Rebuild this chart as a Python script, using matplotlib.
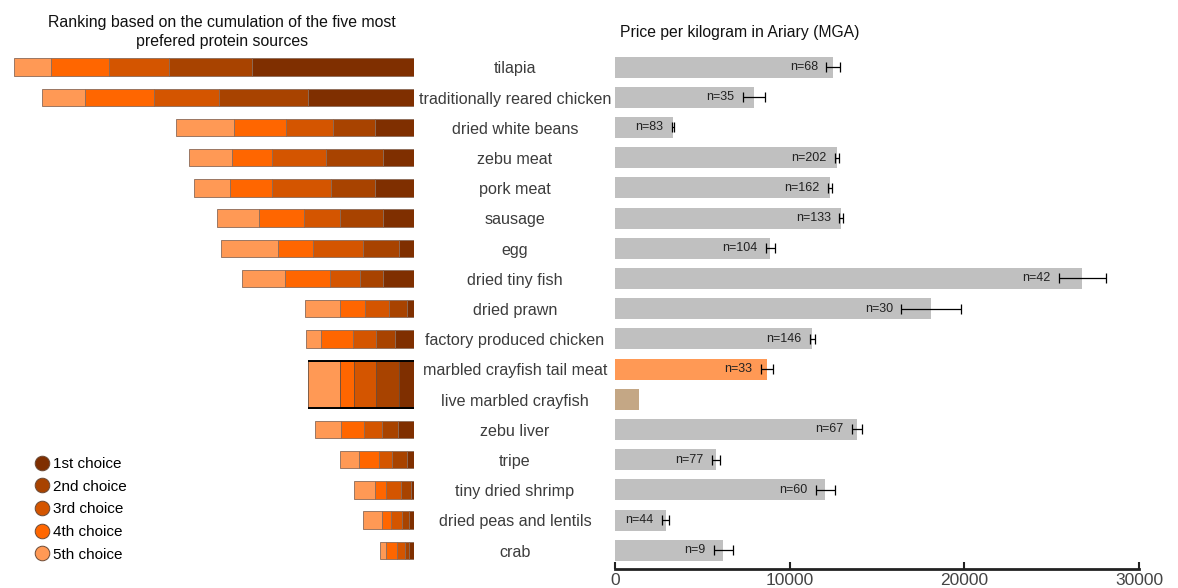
import numpy as np
import matplotlib
matplotlib.use("Agg")
import matplotlib.pyplot as plt
from matplotlib.lines import Line2D
from matplotlib.transforms import blended_transform_factory

plt.rcParams["font.family"] = ["Liberation Sans", "DejaVu Sans"]

categories = ["tilapia", "traditionally reared chicken", "dried white beans", "zebu meat",
              "pork meat", "sausage", "egg", "dried tiny fish", "dried prawn",
              "factory produced chicken", "marbled crayfish tail meat", "live marbled crayfish",
              "zebu liver", "tripe", "tiny dried shrimp", "dried peas and lentils", "crab"]

# ranking widths (arbitrary units), row "live marbled crayfish" shares the crayfish bar
choice1 = [162, 106, 39, 31, 39, 31, 15, 31, 7, 19, 15, np.nan, 16, 7, 3, 5, 5]
choice2 = [83, 89, 42, 57, 44, 43, 36, 23, 18, 19, 23, np.nan, 16, 15, 10, 7, 4]
choice3 = [60, 65, 47, 54, 59, 36, 50, 30, 24, 23, 22, np.nan, 18, 13, 15, 11, 8]
choice4 = [58, 69, 52, 40, 42, 45, 35, 45, 25, 32, 14, np.nan, 23, 20, 11, 9, 11]
choice5 = [37, 43, 58, 43, 36, 42, 57, 43, 35, 15, 32, np.nan, 26, 19, 21, 19, 6]
choice_labels = ["1st choice", "2nd choice", "3rd choice", "4th choice", "5th choice"]
choice_colors = ["#7f2f00", "#a84300", "#d45500", "#ff6600", "#ff9955"]

# price per kg (MGA)
price = [12500, 7950, 3300, 12700, 12300, 12950, 8900, 26750, 18100,
         11300, 8700, 1400, 13850, 5780, 12050, 2900, 6200]
price_err = [400, 650, 60, 100, 100, 120, 250, 1350, 1700,
             130, 350, np.nan, 270, 220, 550, 200, 540]
n_obs = ["68", "35", "83", "202", "162", "133", "104", "42", "30",
         "146", "33", "", "67", "77", "60", "44", "9"]

W, H = 1178, 588
fig = plt.figure(figsize=(W / 100, H / 100), dpi=100)

def px_axes(x0, y0, x1, y1):
    return fig.add_axes([x0 / W, 1 - y1 / H, (x1 - x0) / W, (y1 - y0) / H])

y = np.arange(len(categories))
ylim = (16.62, -0.5)

# ---- left: ranking ----
axl = px_axes(0, 52, 414.3, 569)
choices = np.array([choice1, choice2, choice3, choice4, choice5])
left = np.zeros(len(categories))
for k in range(5):
    for i in range(len(categories)):
        w = choices[k, i]
        if np.isnan(w):
            continue
        if i == 10:
            axl.barh(10.5, w, left=left[i], height=1.55, color=choice_colors[k],
                     edgecolor="#6b4a36", linewidth=0.6)
        else:
            axl.barh(i, w, left=left[i], height=0.58, color=choice_colors[k],
                     edgecolor="#8a6a58", linewidth=0.6)
        left[i] += w
# black top/bottom lines on the crayfish bar
axl.hlines([10.5 - 0.775, 10.5 + 0.775], 0, left[10], color="black", linewidth=1.4)
axl.set_xlim(414.3, 0)
axl.set_ylim(*ylim)
axl.axis("off")

handles = [Line2D([], [], marker="o", linestyle="", markersize=10.5,
                  markerfacecolor=c, markeredgecolor="#6b4a36", markeredgewidth=0.7)
           for c in choice_colors]
fig.legend(handles, choice_labels, loc="upper left", bbox_to_anchor=(34 / W, 1 - 457 / H),
           frameon=False, fontsize=11, handlelength=1.0, handletextpad=0.25,
           labelspacing=0.57, borderpad=0, borderaxespad=0)

fig.text(222 / W, 1 - 32 / H, "Ranking based on the cumulation of the five most\nprefered protein sources",
         ha="center", va="center", fontsize=11.4, color="#111111", linespacing=1.3)

# ---- right: price ----
axr = px_axes(615, 52, 1139, 569)
colors = ["#c0c0c0"] * len(categories)
colors[10] = "#ff9955"
colors[11] = "#c4a785"
axr.barh(y, price, height=0.7, color=colors)
axr.errorbar(price, y, xerr=price_err, fmt="none", ecolor="black", elinewidth=0.9,
             capsize=3.4, capthick=0.9)
for i in range(len(categories)):
    if n_obs[i]:
        axr.annotate("n=" + n_obs[i], (price[i] - price_err[i], i), xytext=(-6, 0),
                     textcoords="offset points", ha="right", va="center",
                     fontsize=9, color="#222222")
trans = blended_transform_factory(axr.transAxes, axr.transData)
for i, c in enumerate(categories):
    axr.text(-100 / 524, i + 0.06, c, transform=trans, ha="center", va="center",
             fontsize=11.6, color="#3c3c3c")

axr.set_xlim(0, 30000)
axr.set_ylim(*ylim)
axr.set_xticks([0, 10000, 20000, 30000])
axr.set_yticks([])
for s in ["top", "right", "left"]:
    axr.spines[s].set_visible(False)
axr.spines["bottom"].set_linewidth(2)
axr.spines["bottom"].set_color("#222222")
axr.tick_params(axis="x", direction="in", length=5, width=1.5, colors="#222222",
                labelsize=12.5, labelcolor="#444444", pad=3)
fig.text(620 / W, 1 - 33 / H, "Price per kilogram in Ariary (MGA)", ha="left", va="center",
         fontsize=11.3, color="#111111")

fig.savefig("out.png", dpi=100)
